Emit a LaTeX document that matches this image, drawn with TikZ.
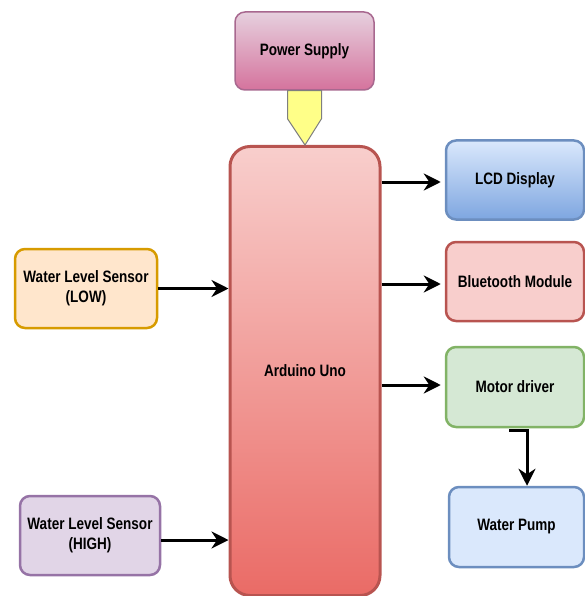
\documentclass[tikz,border=0pt]{standalone}
\usepackage{fontspec}
\setmainfont{Liberation Sans}[FakeStretch=0.82]
\usepackage{tikz}
\usetikzlibrary{arrows.meta,positioning}
\definecolor{psTop}{HTML}{E6D0DE}\definecolor{psBot}{HTML}{D5739D}\definecolor{psLine}{HTML}{A8688F}
\definecolor{arTop}{HTML}{F8CECC}\definecolor{arBot}{HTML}{EA6B66}\definecolor{arLine}{HTML}{B85450}
\definecolor{lcTop}{HTML}{DAE8FC}\definecolor{lcBot}{HTML}{7EA6E0}\definecolor{lcLine}{HTML}{6C8EBF}
\definecolor{gnFill}{HTML}{D5E8D4}\definecolor{gnLine}{HTML}{82B366}
\definecolor{orFill}{HTML}{FFE6CC}\definecolor{orLine}{HTML}{D79B00}
\definecolor{puFill}{HTML}{E1D5E7}\definecolor{puLine}{HTML}{9673A6}
\definecolor{ylFill}{HTML}{FFFF88}\definecolor{ylLine}{HTML}{7F7F7F}
\tikzset{font=\fontsize{16.5}{20}\selectfont\bfseries}
\tikzset{blk/.style={rounded corners=10pt, line width=2.5pt, align=center, inner sep=0pt,
    minimum width=138pt, minimum height=79pt}}
\tikzset{link/.style={line width=3pt, -{Stealth[length=17pt,width=17pt]}}}

\begin{document}
\begin{tikzpicture}[x=1pt,y=-1pt]
\useasboundingbox (0,0) rectangle (585,596);
\node[blk, line width=1.5pt, draw=psLine, top color=psTop, bottom color=psBot, minimum width=139pt, minimum height=78pt]
  (supply) at (304.5,51) {Power Supply};
\node[blk, rounded corners=20pt, line width=3pt, draw=arLine, top color=arTop, bottom color=arBot,
  minimum width=150pt, minimum height=449pt] (arduino) at (305,371) {Arduino Uno};
\node[blk, draw=lcLine, top color=lcTop, bottom color=lcBot] (lcd) at (515,180) {LCD Display};
\node[blk, draw=arLine, fill=arTop] (bluetooth) at (515,281.5) {Bluetooth Module};
\node[blk, draw=gnLine, fill=gnFill, minimum height=80pt] (motor) at (515,387) {Motor driver};
\node[blk, draw=lcLine, fill=lcTop, minimum width=135pt, minimum height=80pt] (pump) at (516.5,527) {Water Pump};
\node[blk, draw=orLine, fill=orFill, minimum width=142pt] (low) at (86,288.5) {Water Level Sensor\\(LOW)};
\node[blk, draw=puLine, fill=puFill, minimum width=140pt] (high) at (90,535.5) {Water Level Sensor\\(HIGH)};
\draw[line width=1pt, draw=ylLine, fill=ylFill] ([xshift=-17pt]supply.south) -- ([xshift=17pt]supply.south)
  -- ++(0,28) -- (arduino.north) -- ([xshift=-17pt,yshift=-28pt]supply.south) -- cycle;
\draw[link, shorten >=4pt] ([yshift=-2pt]arduino.east |- lcd) -- ([yshift=-2pt]lcd.west);
\draw[link, shorten >=4pt] ([yshift=-2.5pt]arduino.east |- bluetooth) -- ([yshift=-2.5pt]bluetooth.west);
\draw[link, shorten >=4pt] ([yshift=2pt]arduino.east |- motor) -- ([yshift=2pt]motor.west);
\draw[link] (low) -- (low -| arduino.west);
\draw[link] ([yshift=-4.5pt]high.east) -- ([yshift=-4.5pt]high.east -| arduino.west);
\draw[link] ([xshift=-6pt,yshift=-2pt]motor.south) -| ([xshift=10.5pt]pump.north);
\end{tikzpicture}
\end{document}
